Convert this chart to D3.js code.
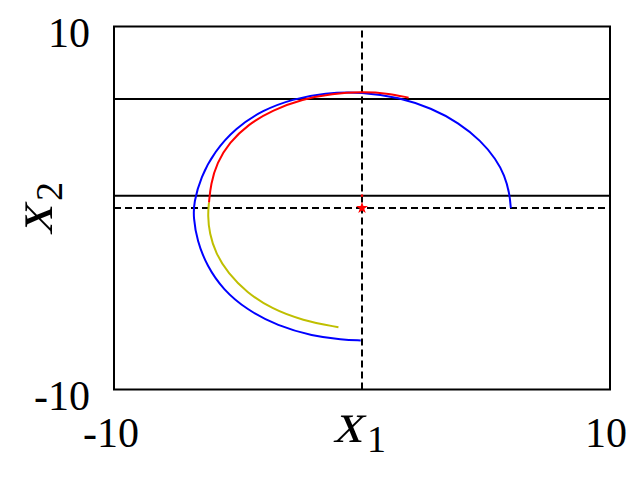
<!DOCTYPE html>
<html><head><meta charset="utf-8">
<script src="https://cdn.jsdelivr.net/npm/d3@7"></script>
<style>body{margin:0;background:#fff}svg{display:block}</style>
</head><body>
<svg id="c" width="640" height="478"></svg>
<script>
// data (x1, x2)
const blueCurve = [[6.0,0],[5.95,0.8],[5.75,1.8],[5.4,2.7],[4.8,3.7],[3.9,4.7],[2.8,5.5],[1.5,6.1],[0,6.4],[-1.5,6.35],[-2.8,6.0],[-4.0,5.4],[-5.1,4.4],[-5.95,3.1],[-6.5,1.7],[-6.78,0.3],[-6.8,-0.5],[-6.65,-1.8],[-6.25,-3.2],[-5.6,-4.5],[-4.65,-5.6],[-3.4,-6.5],[-2.0,-7.05],[-0.8,-7.25],[-0.05,-7.3]];
const redCurve = [[-6.17,0.3],[-6.1,1.3],[-5.85,2.5],[-5.35,3.6],[-4.6,4.6],[-3.6,5.4],[-2.4,6.0],[-1.2,6.3],[0,6.4],[1.0,6.33],[1.88,6.08]];
const yellowCurve = [[-6.17,0.3],[-6.22,-0.4],[-6.15,-1.4],[-5.9,-2.5],[-5.4,-3.6],[-4.65,-4.65],[-3.65,-5.55],[-2.4,-6.2],[-0.95,-6.57]];
const hLines = [6, 0.68];
const equilibrium = [0, 0];
const smallPoint = [0, 0.68];
const xTicks = [-10, 10];
const yTicks = [-10, 10];
const xDomain = [-10, 10], yDomain = [-10, 10];

const svg = d3.select('#c');
const x = d3.scaleLinear().domain(xDomain).range([114, 610]);
const y = d3.scaleLinear().domain(yDomain).range([389.5, 26.5]);
const line = d3.line().x(d => x(d[0])).y(d => y(d[1])).curve(d3.curveBasis);

const g = svg.append('g');
// reference lines
hLines.forEach(v => g.append('line').attr('x1', x(xDomain[0])).attr('x2', x(xDomain[1]))
  .attr('y1', y(v)).attr('y2', y(v)).attr('stroke', '#000').attr('stroke-width', 2));
g.append('line').attr('x1', x(xDomain[0])).attr('x2', x(xDomain[1])).attr('y1', y(0)).attr('y2', y(0))
  .attr('stroke', '#000').attr('stroke-width', 2).attr('stroke-dasharray', '7,4');
g.append('line').attr('x1', x(0)).attr('x2', x(0)).attr('y1', y(yDomain[0])).attr('y2', y(yDomain[1]))
  .attr('stroke', '#000').attr('stroke-width', 2).attr('stroke-dasharray', '7,4');

// curves
[[blueCurve, '#0000ff'], [redCurve, '#ff0000'], [yellowCurve, '#bfbf00']].forEach(([d, c]) =>
  g.append('path').datum(d).attr('d', line).attr('fill', 'none').attr('stroke', c).attr('stroke-width', 2));

// points
g.append('path').attr('d', d3.symbol(d3.symbolStar, 45)())
  .attr('transform', `translate(${x(equilibrium[0])},${y(equilibrium[1])})`).attr('fill', '#ff0000');
g.append('circle').attr('cx', x(smallPoint[0])).attr('cy', y(smallPoint[1])).attr('r', 1.3).attr('fill', '#ff0000');

// frame
svg.append('rect').attr('x', x(xDomain[0])).attr('y', y(yDomain[1]))
  .attr('width', x(xDomain[1]) - x(xDomain[0])).attr('height', y(yDomain[0]) - y(yDomain[1]))
  .attr('fill', 'none').attr('stroke', '#000').attr('stroke-width', 2);

const font = '"Liberation Serif", serif';
// tick labels
xTicks.forEach(t => svg.append('text').attr('x', x(t) - (t < 0 ? 3 : 4)).attr('y', 447)
  .attr('text-anchor', 'middle').attr('font-family', font).attr('font-size', 42).text(t < 0 ? '-' + Math.abs(t) : t));
yTicks.forEach(t => svg.append('text').attr('x', 90).attr('y', y(t) + 20)
  .attr('text-anchor', 'end').attr('font-family', font).attr('font-size', 42).text(t < 0 ? '-' + Math.abs(t) : t));

// axis labels: math italic x (skewed serif) with subscript
function mathLabel(transform, sub) {
  const lg = svg.append('g').attr('transform', transform);
  lg.append('text').attr('x', -27).attr('y', 0).attr('font-family', font).attr('font-size', 58)
    .attr('transform', 'skewX(-14)').text('x');
  lg.append('text').attr('x', 7).attr('y', 10).attr('font-family', font).attr('font-size', 38).text(sub);
}
mathLabel('translate(360,442)', '1');
mathLabel('translate(52,208) rotate(-90)', '2');
</script>
</body></html>
